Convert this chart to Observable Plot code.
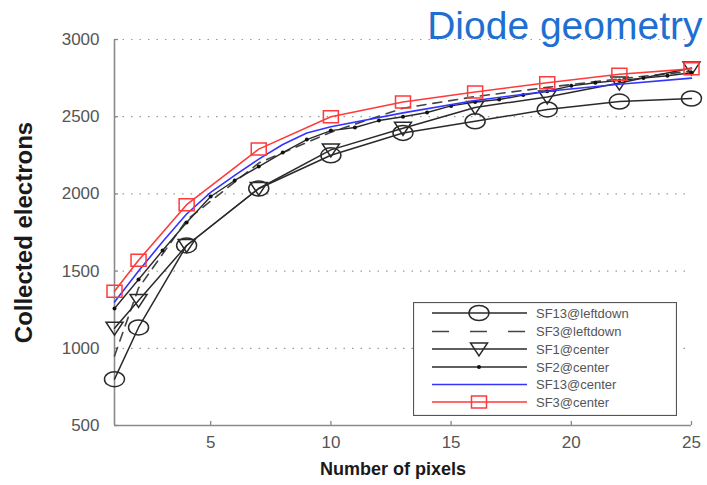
<!DOCTYPE html>
<html><head><meta charset="utf-8">
<script src="https://cdn.jsdelivr.net/npm/d3@7"></script>
<script src="https://cdn.jsdelivr.net/npm/@observablehq/plot@0.6"></script>
<style>
body{margin:0;background:#fff}
#wrap{position:relative;width:707px;height:485px;font-family:"Liberation Sans",Arial,sans-serif}
#legend{position:absolute;left:413px;top:302px}
</style>
</head><body><div id="wrap"></div>
<script>
// ---- data ----
const xMarked = [1, 2, 4, 7, 10, 13, 16, 19, 22, 25];
const sf13Leftdown = [800, 1135, 1666, 2035, 2250, 2395, 2470, 2547, 2598, 2618];
const sf3Leftdown  = [950, 1390, 1830, 2200, 2400, 2555, 2630, 2690, 2745, 2795];
const sf1Center    = [1130, 1310, 1666, 2035, 2285, 2425, 2560, 2628, 2718, 2815];
const sf3Center    = [1370, 1570, 1930, 2290, 2500, 2595, 2660, 2720, 2775, 2810];
const xSf2 = [1,2,3,4,5,6,7,8,9,10,11,12,13,14,15,16,17,18,19,20,21,22,23,24,25];
const sf2Center = [1258,1446,1633,1815,1983,2087,2177,2268,2352,2410,2430,2475,2500,2527,2570,2595,2611,2640,2665,2700,2720,2735,2750,2765,2785];
const xSf13 = [1,2,3,4,5,6,7,8,9,10,13,16,19,22,25];
const sf13Center = [1300,1500,1690,1870,2010,2120,2225,2320,2395,2435,2525,2605,2665,2710,2750];
const xTicks = [5, 10, 15, 20, 25];
const yTicks = [500, 1000, 1500, 2000, 2500, 3000];
const seriesNames = ["SF13@leftdown", "SF3@leftdown", "SF1@center", "SF2@center", "SF13@center", "SF3@center"];
const titleText = "Diode geometry";
const xLabel = "Number of pixels";
const yLabel = "Collected electrons";

const toRows = (xs, ys) => xs.map((x, i) => ({x, y: ys[i]}));

// custom marker shapes (MATLAB-like, slightly stretched)
const ellipse = {draw(c) {
  const rx = 10, ry = 7.5, k = 0.5523;
  c.moveTo(rx, 0);
  c.bezierCurveTo(rx, k*ry, k*rx, ry, 0, ry);
  c.bezierCurveTo(-k*rx, ry, -rx, k*ry, -rx, 0);
  c.bezierCurveTo(-rx, -k*ry, -k*rx, -ry, 0, -ry);
  c.bezierCurveTo(k*rx, -ry, rx, -k*ry, rx, 0);
  c.closePath();
}};
const squareM = {draw(c) {
  const w = 7.5, h = 6;
  c.moveTo(-w, -h); c.lineTo(w, -h); c.lineTo(w, h); c.lineTo(-w, h); c.closePath();
}};
const triDown = {draw(c) {
  c.moveTo(-8.5, -6); c.lineTo(8.5, -6); c.lineTo(0, 7); c.closePath();
}};

const BLACK = "#2a2a2a", BLUE = "#3434ff", RED = "#ff3a3a";
const fw = 707 - 114 - 16, fh = 485 - 39 - 60;

const chart = Plot.plot({
  width: 707, height: 485,
  marginLeft: 114, marginRight: 16, marginTop: 39, marginBottom: 60,
  style: {fontFamily: '"Liberation Sans", Arial, sans-serif', fontSize: "16px", color: "#555", background: "#fff", overflow: "visible"},
  x: {domain: [1, 25], label: null},
  y: {domain: [500, 3000], label: null},
  marks: [
    Plot.ruleY(yTicks.slice(1), {stroke: "#9a9a9a", strokeDasharray: "1.5,7", strokeWidth: 1.2}),
    Plot.axisX({ticks: xTicks, tickSize: 0, tickPadding: 10, fill: "#555", fontSize: 17}),
    Plot.axisY({ticks: yTicks, tickSize: 0, tickPadding: 15, tickFormat: "d", fill: "#555", fontSize: 17}),
    Plot.tickX(xTicks, {x: d => d, stroke: "#888", strokeWidth: 1.3, insetTop: fh - 4}),
    Plot.tickY(yTicks, {y: d => d, stroke: "#888", strokeWidth: 1.3, insetRight: fw - 4}),
    Plot.ruleX([1], {stroke: "#8a8a8a", strokeWidth: 1.6}),
    Plot.ruleY([500], {stroke: "#8a8a8a", strokeWidth: 1.6}),
    // series
    Plot.line(toRows(xMarked, sf13Leftdown), {x: "x", y: "y", stroke: BLACK, strokeWidth: 1.5}),
    Plot.dot(toRows(xMarked, sf13Leftdown), {x: "x", y: "y", symbol: ellipse, r: 7, fill: "none", stroke: BLACK, strokeWidth: 1.5}),
    Plot.line(toRows(xMarked, sf3Leftdown), {x: "x", y: "y", stroke: "#444", strokeWidth: 1.6, strokeDasharray: "9,7"}),
    Plot.line(toRows(xMarked, sf1Center), {x: "x", y: "y", stroke: BLACK, strokeWidth: 1.5}),
    Plot.dot(toRows(xMarked, sf1Center), {x: "x", y: "y", symbol: triDown, r: 7, fill: "none", stroke: BLACK, strokeWidth: 1.5}),
    Plot.line(toRows(xSf2, sf2Center), {x: "x", y: "y", stroke: BLACK, strokeWidth: 1.4}),
    Plot.dot(toRows(xSf2, sf2Center), {x: "x", y: "y", r: 2, fill: "#111"}),
    Plot.line(toRows(xSf13, sf13Center), {x: "x", y: "y", stroke: BLUE, strokeWidth: 1.6}),
    Plot.line(toRows(xMarked, sf3Center), {x: "x", y: "y", stroke: RED, strokeWidth: 1.6}),
    Plot.dot(toRows(xMarked, sf3Center), {x: "x", y: "y", symbol: squareM, r: 7, fill: "none", stroke: RED, strokeWidth: 1.5}),
    // texts
    Plot.text([titleText], {text: d => d, frameAnchor: "top-right", dx: 11, dy: -1, lineAnchor: "bottom", textAnchor: "end", fontSize: 39, fill: "#1f6fd2"}),
    Plot.text([yLabel], {text: d => d, frameAnchor: "left", textAnchor: "middle", lineAnchor: "middle", dx: -90, dy: 0, rotate: -90, fontSize: 24, fontWeight: "bold", fill: "#1a1a1a"}),
    Plot.text([xLabel], {text: d => d, frameAnchor: "bottom", dx: -10, dy: 49, fontSize: 18, fontWeight: "bold", fill: "#1a1a1a"})
  ]
});
const wrap = document.getElementById("wrap");
wrap.appendChild(chart);

// legend overlay
const lg = d3.select(wrap).append("svg").attr("id", "legend").attr("width", 264).attr("height", 114);
lg.append("rect").attr("x", 0.5).attr("y", 0.5).attr("width", 263).attr("height", 113).attr("fill", "#fff").attr("stroke", "#555").attr("stroke-width", 1.2);
const rowY = [11, 29.5, 47, 65, 82.5, 100];
const styles = [
  {stroke: BLACK, marker: ellipse},
  {stroke: "#444", dash: "17,21"},
  {stroke: BLACK, marker: triDown},
  {stroke: BLACK, dot: true},
  {stroke: BLUE},
  {stroke: RED, marker: squareM}
];
seriesNames.forEach((name, i) => {
  const y = rowY[i], s = styles[i];
  lg.append("line").attr("x1", 19).attr("x2", 114).attr("y1", y).attr("y2", y)
    .attr("stroke", s.stroke).attr("stroke-width", 1.6).attr("stroke-dasharray", s.dash || null);
  if (s.marker) lg.append("path").attr("transform", `translate(66,${y})`)
    .attr("d", d3.symbol(s.marker)()).attr("fill", "none").attr("stroke", s.stroke).attr("stroke-width", 1.5);
  if (s.dot) lg.append("circle").attr("cx", 66).attr("cy", y).attr("r", 2).attr("fill", "#111");
  lg.append("text").attr("x", 123).attr("y", y).attr("dy", "0.35em").attr("font-size", 13)
    .attr("fill", "#555").attr("font-family", '"Liberation Sans", Arial, sans-serif').text(name);
});
</script></body></html>
